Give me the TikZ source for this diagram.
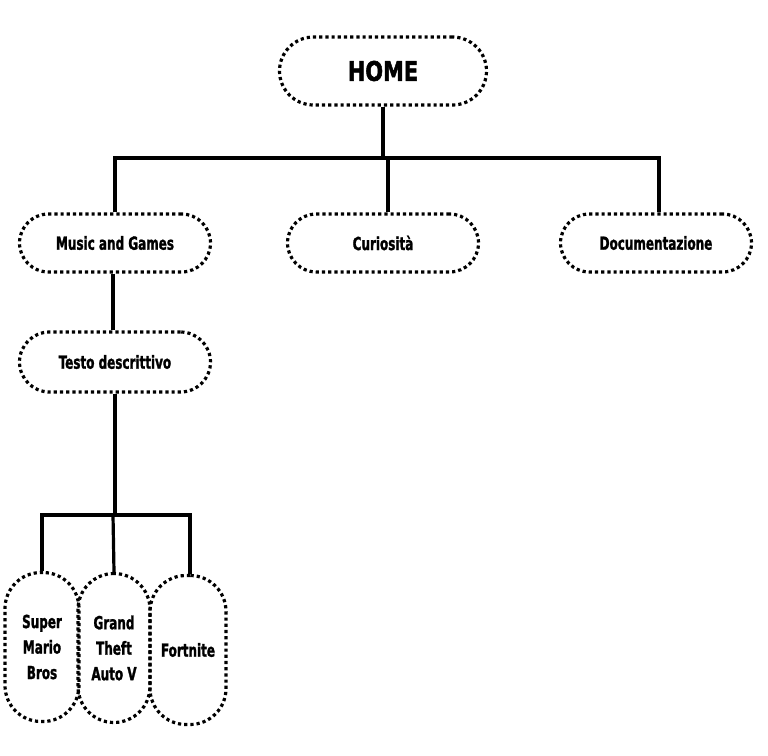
\documentclass[tikz,border=0pt]{standalone}
\usepackage{fontspec}
\newfontfamily\boxfont[FakeStretch=0.74, FakeBold=1.4]{DejaVu Sans Condensed Bold}
\newfontfamily\homefont[FakeStretch=0.86, FakeBold=1.8]{DejaVu Sans Condensed Bold}
\usetikzlibrary{positioning}

\tikzset{
  pill/.style={draw, line width=3.2pt, dash pattern=on 3.2pt off 3pt,
    rounded corners=29pt, minimum width=191pt, minimum height=58pt,
    font=\boxfont\fontsize{18}{20}\selectfont, inner sep=0pt},
  tallpill/.style={draw, line width=3.2pt, dash pattern=on 3.2pt off 3pt,
    rounded corners=36pt, minimum width=74pt, minimum height=149pt,
    align=center, font=\boxfont\fontsize{18}{25.5}\selectfont, inner sep=0pt},
  link/.style={line width=3.2pt}
}

\begin{document}
\begin{tikzpicture}[x=1pt,y=-1pt]
        \useasboundingbox (0,0) rectangle (768,755);

        % top level
        \node[pill, minimum width=207pt, minimum height=68pt, rounded corners=34pt,
              font=\homefont\fontsize{27}{30}\selectfont] (home) at (383,71) {HOME};

        \node[pill] (music) at (115,243) {Music and Games};
        \node[pill] (curio) at (383,243) {Curiosità};
        \node[pill] (docum) at (656,243) {Documentazione};

        \coordinate (hub) at (383,158);
        \draw[link] (home.south) -- (hub);
        \draw[link] (hub) -| (music.north);
        \draw[link] (hub) -| ([xshift=3pt]docum.north);
        \draw[link] (hub) -| ([xshift=5pt]curio.north);

        % second level
        \node[pill, minimum height=60pt, rounded corners=30pt] (testo) at (115,362) {Testo descrittivo};
        \draw[link] ([xshift=-2pt]music.south) -- ([xshift=-2pt]testo.north);

        % games
        \node[tallpill] (mario) at (42,647) {Super\\Mario\\Bros};
        \node[tallpill, minimum width=72pt] (gta) at (114,648) {Grand\\Theft\\Auto V};
        \node[tallpill, minimum width=76pt] (fortnite) at (188,650) {Fortnite};

        \coordinate (hub2) at (113,515);
        \draw[link] (testo.south) |- (hub2);
        \draw[link] (hub2) -| (mario.north);
        \draw[link] (hub2) -- (gta.north);
        \draw[link] (hub2) -| ([xshift=2pt]fortnite.north);

    \end{tikzpicture}
\end{document}
